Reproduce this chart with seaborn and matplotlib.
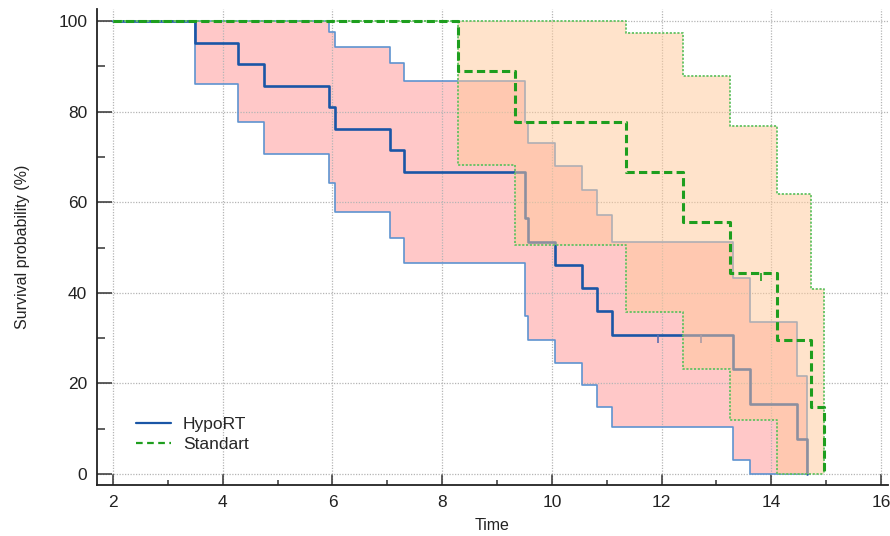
import matplotlib
matplotlib.use("Agg")
import matplotlib.pyplot as plt
from matplotlib.ticker import MultipleLocator
from matplotlib.lines import Line2D
import seaborn as sns
import pandas as pd

# ---------------- data ----------------
hypo_time = [2.0, 3.50, 4.27, 4.75, 5.94, 6.05, 7.05, 7.31, 9.51, 9.57, 10.06,
             10.54, 10.83, 11.09, 13.30, 13.61, 14.47, 14.65]
hypo_surv = [100.0, 95.24, 90.48, 85.71, 80.95, 76.19, 71.43, 66.67, 56.41, 51.28,
             46.15, 41.03, 35.90, 30.77, 23.08, 15.38, 7.69, 0.0]
hypo_upper = [100.0, 100.0, 100.0, 100.0, 97.5, 94.2, 90.7, 86.8, 77.8, 73.0,
              67.9, 62.6, 57.2, 51.2, 43.3, 33.5, 21.7, 0.0]
hypo_lower = [100.0, 86.0, 77.8, 70.6, 64.2, 57.9, 52.0, 46.5, 34.9, 29.6,
              24.4, 19.6, 14.9, 10.4, 3.1, 0.0, 0.0, 0.0]
hypo_cens_time = [11.94, 12.72]
hypo_cens_surv = [30.77, 30.77]

std_time = [2.0, 8.29, 9.33, 11.35, 12.39, 13.25, 14.10, 14.73, 14.96]
std_surv = [100.0, 88.89, 77.78, 66.67, 55.56, 44.44, 29.63, 14.81, 0.0]
std_upper = [100.0, 100.0, 100.0, 97.3, 87.9, 76.8, 61.7, 40.8, 0.0]
std_lower = [100.0, 68.2, 50.6, 35.8, 23.1, 11.9, 0.0, 0.0, 0.0]
std_cens_time = [13.82]
std_cens_surv = [44.44]

group_names = ["HypoRT", "Standart"]
x_ticks = [2, 4, 6, 8, 10, 12, 14, 16]
y_ticks = [0, 20, 40, 60, 80, 100]

# ---------------- style ----------------
sns.set_theme(style="white")
plt.rcParams["font.family"] = ["Liberation Sans", "DejaVu Sans"]

W, H = 890, 536
fig = plt.figure(figsize=(W / 100, H / 100), dpi=100)
L, R, T, B = 97, 888, 9, 485
ax = fig.add_axes([L / W, 1 - B / H, (R - L) / W, (B - T) / H])

blue = "#1a56a6"
blue_ci = "#5f93d0"
green = "#1e9e1e"
green_ci = "#62c262"
pink = "#ffc8c8"
peach = "#ffc999"

hypo = pd.DataFrame({"time": hypo_time, "surv": hypo_surv,
                     "upper": hypo_upper, "lower": hypo_lower})
std = pd.DataFrame({"time": std_time, "surv": std_surv,
                    "upper": std_upper, "lower": std_lower})

# HypoRT band and lines
ax.fill_between(hypo["time"], hypo["lower"], hypo["upper"], step="post",
                color=pink, linewidth=0, zorder=1)
for col in ["upper", "lower"]:
    sns.lineplot(data=hypo, x="time", y=col, ax=ax, drawstyle="steps-post",
                 color=blue_ci, linewidth=1.2, estimator=None, sort=False,
                 zorder=2, legend=False)
sns.lineplot(data=hypo, x="time", y="surv", ax=ax, drawstyle="steps-post",
             color=blue, linewidth=1.9, estimator=None, sort=False,
             zorder=2.2, legend=False)
ax.plot(hypo_cens_time, hypo_cens_surv, linestyle="none", marker=3,
        markersize=6, markeredgewidth=1.2, color="#5a6fb0", zorder=2.3)

# Standart band (translucent, drawn over HypoRT) and lines
ax.fill_between(std["time"], std["lower"], std["upper"], step="post",
                color=peach, alpha=0.5, linewidth=0, zorder=3)
for col in ["upper", "lower"]:
    sns.lineplot(data=std, x="time", y=col, ax=ax, drawstyle="steps-post",
                 color=green_ci, linewidth=1.3, linestyle=(0, (1.2, 0.9)),
                 estimator=None, sort=False, zorder=4, legend=False)
sns.lineplot(data=std, x="time", y="surv", ax=ax, drawstyle="steps-post",
             color=green, linewidth=2.2, linestyle=(0, (2.7, 1.4)),
             estimator=None, sort=False, zorder=4.2, legend=False)
ax.plot(std_cens_time, std_cens_surv, linestyle="none", marker=3,
        markersize=6, markeredgewidth=1.2, color=green, zorder=4.3)

# axes
xmin = 2 + (L - 113) / 54.86
xmax = 2 + (R - 113) / 54.86
ymin = (474 - B) / 4.53
ymax = (474 - T) / 4.53
ax.set_xlim(xmin, xmax)
ax.set_ylim(ymin, ymax)
ax.set_xticks(x_ticks)
ax.set_yticks(y_ticks)
ax.xaxis.set_minor_locator(MultipleLocator(1))
ax.yaxis.set_minor_locator(MultipleLocator(10))
ax.set_axisbelow("line")
ax.grid(True, which="major", color="#b5b5b5", linestyle=(0, (1, 1.2)),
        linewidth=0.9)

for s in ["top", "right"]:
    ax.spines[s].set_visible(False)
for s in ["left", "bottom"]:
    ax.spines[s].set_color("#222222")
    ax.spines[s].set_linewidth(1.3)

ax.tick_params(axis="x", which="major", direction="in", length=8, width=1.1,
               color="#333333", pad=7, labelsize=12.5, labelcolor="#222222")
ax.tick_params(axis="x", which="minor", direction="in", length=3.8, width=1.1,
               color="#333333")
ax.tick_params(axis="y", which="major", direction="in", length=11, width=1.1,
               color="#333333", pad=7, labelsize=12.5, labelcolor="#222222")
ax.tick_params(axis="y", which="minor", direction="in", length=6, width=1.1,
               color="#333333")
ax.xaxis.set_tick_params(which="both", bottom=True)
ax.yaxis.set_tick_params(which="both", left=True)

ax.set_xlabel("Time", fontsize=11.5, color="#222222", labelpad=6)
ax.set_ylabel("Survival probability (%)", fontsize=11.5, color="#222222",
              labelpad=20)

handles = [Line2D([], [], color=blue, linewidth=1.6),
           Line2D([], [], color=green, linewidth=1.6, linestyle=(0, (3, 2)))]
ax.legend(handles, group_names, loc="lower left",
          bbox_to_anchor=((136 - L) / (R - L), 1 - (452 - T) / (B - T)),
          frameon=False, fontsize=12.5, handlelength=2.0, handletextpad=0.7,
          labelspacing=0.3, borderpad=0, borderaxespad=0)

fig.savefig("out.png", dpi=100)
